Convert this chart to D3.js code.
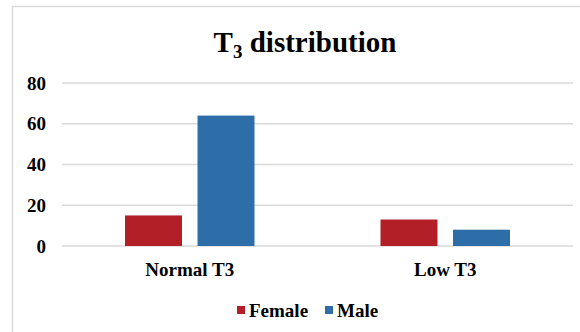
<!DOCTYPE html>
<html>
<head>
<meta charset="utf-8">
<script src="https://cdn.jsdelivr.net/npm/d3@7"></script>
<style>
  body { margin: 0; background: #fff; }
</style>
</head>
<body>
<div id="chart"></div>
<script>
const categories = ["Normal T3", "Low T3"];
const series = ["Female", "Male"];
const female = [15, 13];
const male = [64, 8];
const yTicks = [0, 20, 40, 60, 80];
const colors = ["#b21f27", "#2d6ea9"];

const w = 580;
const h = 332;
const font = "'Liberation Serif', 'Times New Roman', Times, 'DejaVu Serif', serif";

const svg = d3.select("#chart")
    .append("svg")
    .attr("width", w)
    .attr("height", h)
    .style("font-family", font)
    .style("font-weight", "bold");

// outer chart frame
svg.append("rect")
    .attr("x", 12.5)
    .attr("y", 6.5)
    .attr("width", 600)
    .attr("height", 400)
    .attr("fill", "none")
    .attr("stroke", "#d9d9d9")
    .attr("stroke-width", 1.5);

const yScale = d3.scaleLinear().domain([0, 80]).range([246, 83]);

const x0 = d3.scaleBand().domain(categories).range([62, 573]);
const inset = 63;
const x1 = d3.scaleBand().domain(series).range([inset, x0.bandwidth() - inset]).paddingInner(0.214);

// gridlines
svg.append("g")
    .selectAll("line")
    .data(yTicks)
    .enter()
    .append("line")
    .attr("x1", 62)
    .attr("x2", 573)
    .attr("y1", d => yScale(d))
    .attr("y2", d => yScale(d))
    .attr("stroke", "#d9d9d9")
    .attr("stroke-width", 1.5);

const yAxis = d3.axisLeft(yScale).tickValues(yTicks).tickSize(0).tickPadding(16);
svg.append("g")
    .attr("transform", "translate(62, 0)")
    .call(yAxis)
    .call(g => g.select(".domain").remove())
    .call(g => g.attr("font-family", null).attr("font-size", null))
    .selectAll("text")
    .style("font-family", font)
    .style("font-size", "19px")
    .attr("fill", "#000");

const rows = categories.map((c, i) => ({ cat: c, vals: [female[i], male[i]] }));

svg.append("g")
    .selectAll("g")
    .data(rows)
    .enter()
    .append("g")
    .attr("transform", d => `translate(${x0(d.cat)}, 0)`)
    .selectAll("rect")
    .data(d => d.vals.map((v, j) => ({ s: series[j], v: v, j: j })))
    .enter()
    .append("rect")
    .attr("x", d => x1(d.s))
    .attr("width", x1.bandwidth())
    .attr("y", d => yScale(d.v))
    .attr("height", d => yScale(0) - yScale(d.v))
    .attr("fill", d => colors[d.j]);

const xAxis = d3.axisBottom(x0).tickSize(0).tickPadding(17);
svg.append("g")
    .attr("transform", "translate(0, 246)")
    .call(xAxis)
    .call(g => g.select(".domain").remove())
    .call(g => g.attr("font-family", null).attr("font-size", null))
    .selectAll("text")
    .style("font-family", font)
    .style("font-size", "19px")
    .attr("fill", "#000");

// title with subscript
const title = svg.append("text")
    .attr("x", 305)
    .attr("y", 52)
    .attr("text-anchor", "middle")
    .style("font-size", "29px");
title.append("tspan").text("T");
title.append("tspan").style("font-size", "19px").attr("dy", 6).text("3");
title.append("tspan").attr("dy", -6).text(" distribution");

// legend
const legend = svg.append("g").attr("transform", "translate(237, 0)");
const items = legend.selectAll("g")
    .data(series)
    .enter()
    .append("g")
    .attr("transform", (d, i) => `translate(${i * 88}, 0)`);
items.append("rect")
    .attr("x", 0)
    .attr("y", 306)
    .attr("width", 8)
    .attr("height", 8)
    .attr("fill", (d, i) => colors[i]);
items.append("text")
    .attr("x", 12)
    .attr("y", 317)
    .style("font-size", "19px")
    .text(d => d);
</script>
</body>
</html>
